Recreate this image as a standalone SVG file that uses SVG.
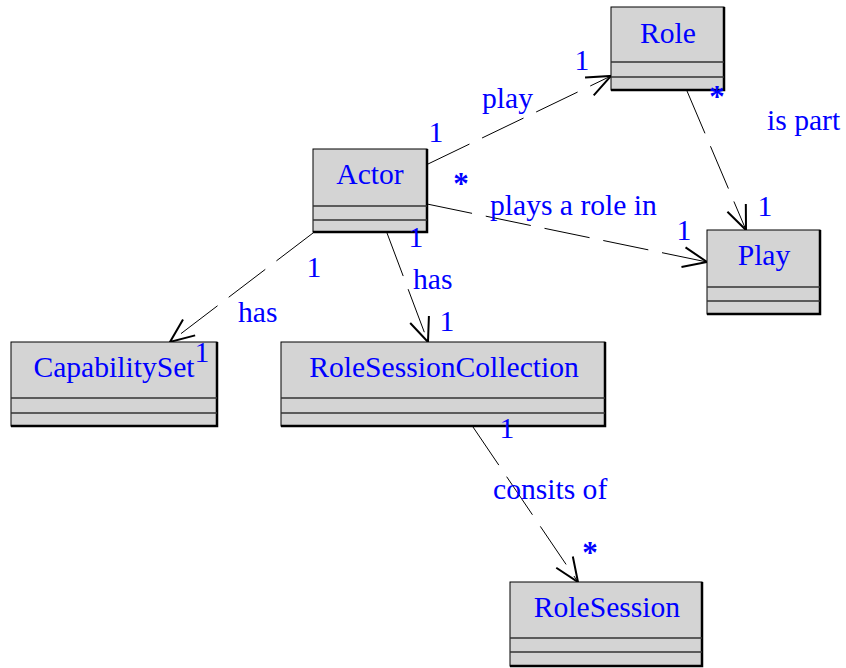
<svg xmlns="http://www.w3.org/2000/svg" width="846" height="668" viewBox="0 0 846 668">
<style>
.box{fill:#d4d4d4;stroke:#000;stroke-width:1}
.sh{fill:none;stroke:#000;stroke-width:2.5}
.sep{stroke:#333;stroke-width:1.3}
text{font-family:"Liberation Serif","Times New Roman",serif;font-size:29.6px;fill:#0000ff}
.name{text-anchor:middle}
.c{text-anchor:middle}
.st{text-anchor:middle;font-weight:bold;font-size:31px}
.conn{fill:none;stroke:#000;stroke-width:1;stroke-dasharray:46 14}
</style>
<defs>
<marker id="arr" markerUnits="userSpaceOnUse" orient="auto" markerWidth="30" markerHeight="30" viewBox="-28 -14 30 28" refX="0" refY="0" overflow="visible">
<path d="M-24,-10 L0,0 L-24,10" fill="none" stroke="#000" stroke-width="2"/>
</marker>
</defs>
<rect width="846" height="668" fill="#fff"/>
<g id="connectors">
<line class="conn" x1="428" y1="164" x2="611" y2="76" marker-end="url(#arr)"/>
<line class="conn" x1="427" y1="204" x2="707" y2="262" marker-end="url(#arr)"/>
<line class="conn" x1="687" y1="91" x2="746" y2="230" marker-end="url(#arr)"/>
<line class="conn" x1="313" y1="233" x2="170" y2="342" marker-end="url(#arr)"/>
<line class="conn" x1="387" y1="233" x2="428" y2="342" marker-end="url(#arr)"/>
<line class="conn" x1="473" y1="427" x2="578" y2="582" marker-end="url(#arr)"/>
</g>
<g id="Role">
<rect class="box" x="611" y="7" width="113" height="83"/>
<path class="sh" d="M611,90 H724 V7"/>
<line class="sep" x1="611" y1="62" x2="724" y2="62"/>
<line class="sep" x1="611" y1="77" x2="724" y2="77"/>
<text class="name" x="668" y="43">Role</text>
</g>
<g id="Actor">
<rect class="box" x="313" y="149" width="114" height="83"/>
<path class="sh" d="M313,232 H427 V149"/>
<line class="sep" x1="313" y1="206" x2="427" y2="206"/>
<line class="sep" x1="313" y1="220" x2="427" y2="220"/>
<text class="name" x="370" y="184">Actor</text>
</g>
<g id="Play">
<rect class="box" x="707" y="230" width="113" height="84"/>
<path class="sh" d="M707,314 H820 V230"/>
<line class="sep" x1="707" y1="287" x2="820" y2="287"/>
<line class="sep" x1="707" y1="301" x2="820" y2="301"/>
<text class="name" x="764" y="265">Play</text>
</g>
<g id="CapabilitySet">
<rect class="box" x="11" y="342" width="206" height="84"/>
<path class="sh" d="M11,426 H217 V342"/>
<line class="sep" x1="11" y1="398" x2="217" y2="398"/>
<line class="sep" x1="11" y1="413" x2="217" y2="413"/>
<text class="name" x="114" y="377">CapabilitySet</text>
</g>
<g id="RoleSessionCollection">
<rect class="box" x="281" y="342" width="324" height="84"/>
<path class="sh" d="M281,426 H605 V342"/>
<line class="sep" x1="281" y1="398" x2="605" y2="398"/>
<line class="sep" x1="281" y1="413" x2="605" y2="413"/>
<text class="name" x="444" y="377">RoleSessionCollection</text>
</g>
<g id="RoleSession">
<rect class="box" x="510" y="582" width="192" height="84"/>
<path class="sh" d="M510,666 H702 V582"/>
<line class="sep" x1="510" y1="638" x2="702" y2="638"/>
<line class="sep" x1="510" y1="652" x2="702" y2="652"/>
<text class="name" x="607" y="617">RoleSession</text>
</g>
<g id="labels">
<text x="482" y="108">play</text>
<text class="c" x="436" y="142">1</text>
<text class="c" x="582" y="70">1</text>
<text class="st" x="461" y="194">*</text>
<text x="490" y="215">plays a role in</text>
<text class="c" x="684" y="240">1</text>
<text class="st" x="717" y="107">*</text>
<text x="767" y="130">is part</text>
<text class="c" x="765" y="216">1</text>
<text class="c" x="314" y="277">1</text>
<text x="238" y="322">has</text>
<text class="c" x="202" y="362">1</text>
<text class="c" x="416" y="247">1</text>
<text x="413" y="289">has</text>
<text class="c" x="447" y="331">1</text>
<text class="c" x="507" y="438">1</text>
<text x="493" y="499">consits of</text>
<text class="st" x="590" y="563">*</text>
</g>
</svg>
